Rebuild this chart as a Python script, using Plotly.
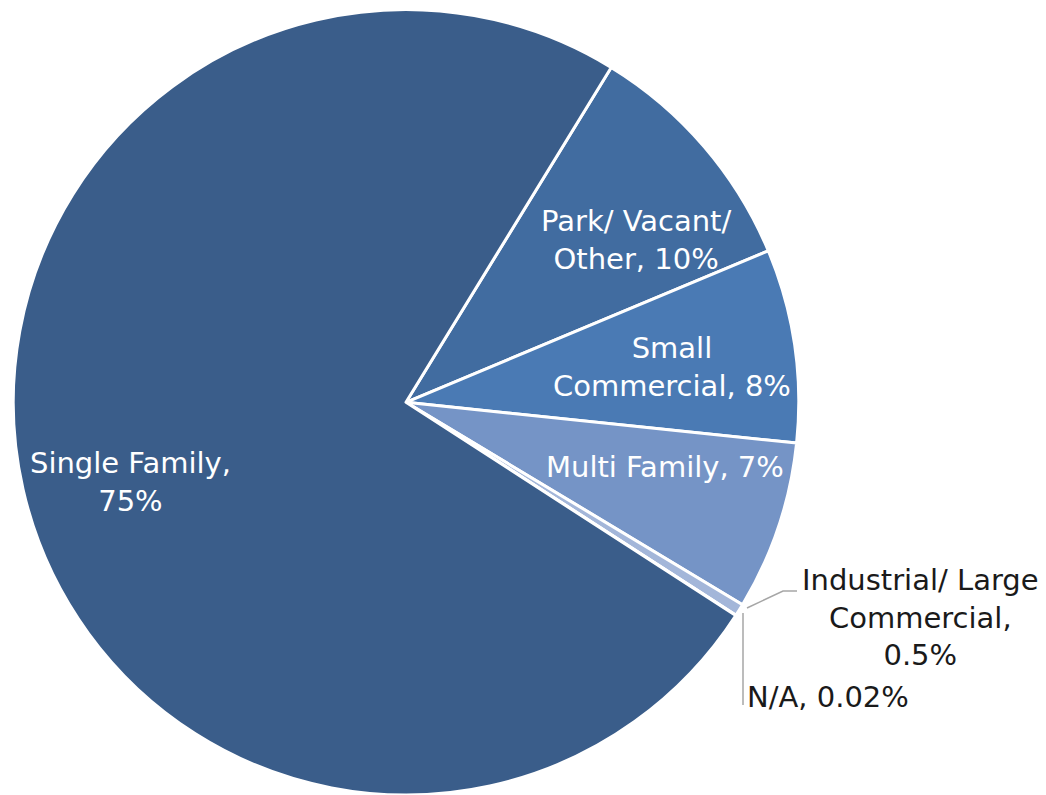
import plotly.graph_objects as go

# Land use shares (percent of parcels)
categories = ["Park/ Vacant/ Other", "Small Commercial", "Multi Family",
              "Industrial/ Large Commercial", "N/A", "Single Family"]
shares = [10, 8, 7, 0.5, 0.02, 75]
share_labels = ["10%", "8%", "7%", "0.5%", "0.02%", "75%"]

colors = ["#416ca0", "#4a7ab4", "#7594c6", "#a3b6d9", "#c9d3e6", "#3a5d8a"]

W, H = 1046, 795
FONT = "DejaVu Sans"


def px(x, y):
    """Pixel position -> paper coordinates."""
    return x / W, 1 - y / H


fig = go.Figure(go.Pie(
    labels=categories,
    values=shares,
    sort=False,
    direction="clockwise",
    rotation=31.5,
    marker=dict(colors=colors, line=dict(color="white", width=3)),
    textinfo="none",
    hoverinfo="label+percent",
    showlegend=False,
    domain=dict(x=[(406 - 395) / W, (406 + 395) / W], y=[0.0, 0.988]),
))

# Data labels: (text, pixel centre, colour)
label_text = [
    "Park/ Vacant/<br>Other, " + share_labels[0],
    "Small<br>Commercial, " + share_labels[1],
    "Multi Family, " + share_labels[2],
    "Industrial/ Large<br>Commercial,<br>" + share_labels[3],
    "N/A, " + share_labels[4],
    "Single Family,<br>" + share_labels[5],
]
label_pos = [(636, 240), (672, 367), (665, 467), (920, 617), (828, 697), (130, 482)]
label_color = ["white", "white", "white", "#1a1a1a", "#1a1a1a", "white"]

annotations = []
for text, (lx, ly), col in zip(label_text, label_pos, label_color):
    ax, ay = px(lx, ly)
    annotations.append(dict(
        x=ax, y=ay, xref="paper", yref="paper", text=text, showarrow=False,
        xanchor="center", yanchor="middle", align="center",
        font=dict(family=FONT, size=29, color=col),
    ))

# Leader lines for the two thin slices
leader_paths = [
    [(747, 608), (783, 591), (797, 591)],
    [(743, 613), (743, 705)],
]
shapes = []
for pts in leader_paths:
    pp = [px(x, y) for x, y in pts]
    path = "M " + " L ".join(f"{x:.5f},{y:.5f}" for x, y in pp)
    shapes.append(dict(type="path", path=path, xref="paper", yref="paper",
                       line=dict(color="#a6a6a6", width=1.5)))

fig.update_layout(
    width=W, height=H,
    margin=dict(l=0, r=0, t=0, b=0),
    paper_bgcolor="white", plot_bgcolor="white",
    annotations=annotations, shapes=shapes,
)

fig.write_html("out.html")
